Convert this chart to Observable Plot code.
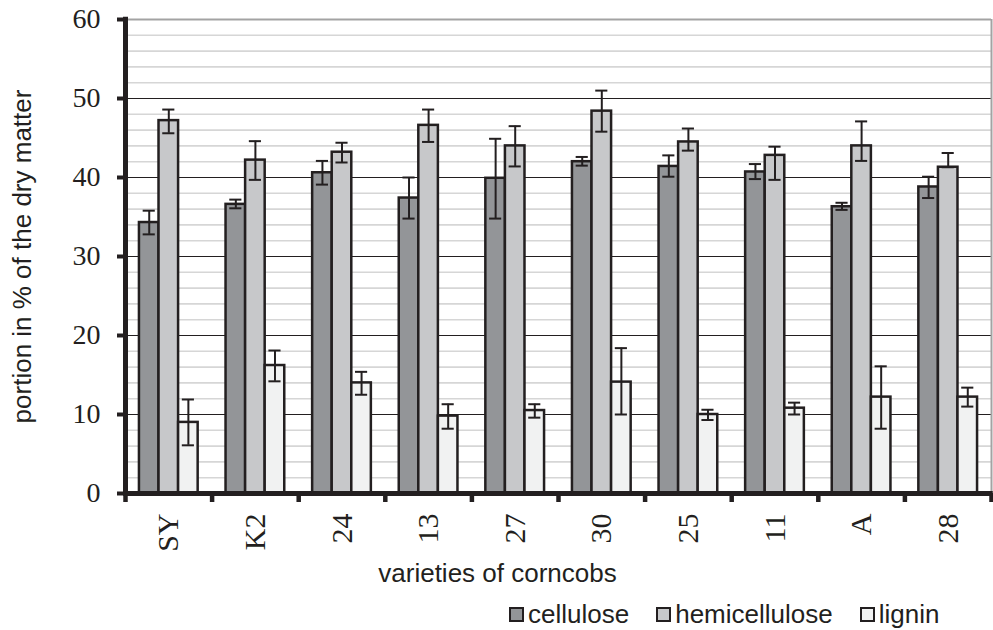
<!DOCTYPE html>
<html>
<head>
<meta charset="utf-8">
<script src="https://cdn.jsdelivr.net/npm/d3@7"></script>
<script src="https://cdn.jsdelivr.net/npm/@observablehq/plot@0.6"></script>
<style>
  html, body { margin: 0; padding: 0; background: #fff; }
  #wrap { position: relative; width: 993px; height: 630px; overflow: hidden; }
  #legend { position: absolute; left: 509px; top: 601px; display: flex; align-items: center;
            font-family: "Liberation Sans", Arial, sans-serif; font-size: 26px; color: #231f20; line-height: 1; }
  .item { display: flex; align-items: center; margin-right: 27px; }
  .sw { width: 11px; height: 11px; border: 2px solid #231f20; margin-right: 4px; }
</style>
</head>
<body>
<div id="wrap"><div id="chart"></div><div id="legend"></div></div>
<script>
const varieties = ["SY", "K2", "24", "13", "27", "30", "25", "11", "A", "28"];
const series = ["cellulose", "hemicellulose", "lignin"];
const colors = ["#939598", "#c7c8ca", "#f1f2f2"];

const cellulose         = [34.3, 36.6, 40.6, 37.4, 39.9, 42.0, 41.4, 40.7, 36.3, 38.8];
const celluloseLow      = [32.8, 36.1, 39.1, 34.8, 34.8, 41.5, 40.1, 39.8, 35.9, 37.4];
const celluloseHigh     = [35.8, 37.2, 42.1, 40.0, 44.9, 42.6, 42.8, 41.7, 36.8, 40.1];
const hemicellulose     = [47.2, 42.2, 43.2, 46.6, 44.0, 48.4, 44.5, 42.8, 44.0, 41.3];
const hemicelluloseLow  = [45.6, 39.7, 41.9, 44.5, 41.4, 45.8, 43.4, 39.7, 42.1, 41.3];
const hemicelluloseHigh = [48.6, 44.6, 44.4, 48.6, 46.5, 51.0, 46.2, 43.9, 47.1, 43.1];
const lignin            = [9.0, 16.2, 14.0, 9.8, 10.5, 14.1, 10.0, 10.8, 12.2, 12.2];
const ligninLow         = [6.1, 14.2, 12.5, 8.2, 9.6, 10.0, 9.3, 10.0, 8.2, 11.0];
const ligninHigh        = [11.9, 18.1, 15.4, 11.3, 11.3, 18.4, 10.6, 11.5, 16.1, 13.4];

const yTicks = [0, 10, 20, 30, 40, 50, 60];
const yMinor = d3.range(2, 60, 2).filter(v => v % 10 !== 0);

const xTitle = "varieties of corncobs";
const yTitle = "portion in % of the dry matter";

// table built from the arrays
const values = [cellulose, hemicellulose, lignin];
const lows = [celluloseLow, hemicelluloseLow, ligninLow];
const highs = [celluloseHigh, hemicelluloseHigh, ligninHigh];
const rows = [];
varieties.forEach((v, i) => series.forEach((s, k) => rows.push({
  variety: v, series: s, i, k, value: values[k][i], low: lows[k][i], high: highs[k][i]
})));

const w = 0.226;          // bar width in band units
const cap = 0.07;         // half cap width in band units
const left = d => d.i + 0.5 + (d.k - 1.5) * w;
const mid = d => left(d) + w / 2;
const boundaries = d3.range(varieties.length + 1);

const ink = "#231f20";

const chart = Plot.plot({
  width: 993,
  height: 590,
  marginLeft: 125,
  marginRight: 2,
  marginTop: 19,
  marginBottom: 97,
  style: { fontFamily: "Liberation Sans, Arial, sans-serif", color: ink, background: "#fff" },
  x: { domain: [0, varieties.length], axis: null },
  y: { domain: [0, 60], axis: null },
  color: { domain: series, range: colors },
  marks: [
    Plot.ruleY(yMinor, { stroke: "#d6d6d6", strokeWidth: 1.6 }),
    Plot.ruleY(yTicks.filter(t => t > 0 && t < 60), { stroke: ink, strokeWidth: 1.2 }),
    Plot.ruleY([60], { stroke: "#a3a3a3", strokeWidth: 2 }),
    Plot.ruleX([varieties.length], { stroke: "#a3a3a3", strokeWidth: 2 }),
    Plot.rectY(rows, { x1: left, x2: d => left(d) + w, y1: 0, y2: "value", fill: "series",
                       stroke: ink, strokeWidth: 2.5 }),
    Plot.ruleX(rows, { x: mid, y1: "low", y2: "high", stroke: ink, strokeWidth: 2 }),
    Plot.ruleY(rows, { y: "low", x1: d => mid(d) - cap, x2: d => mid(d) + cap, stroke: ink, strokeWidth: 2 }),
    Plot.ruleY(rows, { y: "high", x1: d => mid(d) - cap, x2: d => mid(d) + cap, stroke: ink, strokeWidth: 2 }),
    // axes
    Plot.axisY(yTicks, { tickSize: 8, tickPadding: 17, strokeWidth: 4, fontSize: 28,
                         fontFamily: "Liberation Serif, Times New Roman, serif", label: null }),
    Plot.axisX(boundaries, { tickSize: 9, strokeWidth: 4.5, tickFormat: () => "", label: null }),
    Plot.ruleX([0], { stroke: ink, strokeWidth: 5, y1: -0.3, y2: 60.3 }),
    Plot.ruleY([0], { stroke: ink, strokeWidth: 5, x1: -0.02, x2: varieties.length + 0.02 }),
    Plot.text(varieties, { x: (d, i) => i + 0.5, frameAnchor: "bottom", text: d => d, rotate: -90,
                           textAnchor: "end", lineAnchor: "middle", dy: 20, fontSize: 30,
                           fontFamily: "Liberation Serif, Times New Roman, serif", fill: ink }),
    Plot.text([xTitle], { frameAnchor: "bottom", text: d => d, textAnchor: "middle", lineAnchor: "middle",
                          dx: -61, dy: 80, fontSize: 26, fill: ink }),
    Plot.text([yTitle], { frameAnchor: "left", text: d => d, rotate: -90, textAnchor: "middle",
                          lineAnchor: "middle", dx: -103, fontSize: 26, fill: ink })
  ]
});
document.getElementById("chart").appendChild(chart);

const legend = document.getElementById("legend");
series.forEach((s, k) => {
  const item = document.createElement("div");
  item.className = "item";
  const sw = document.createElement("div");
  sw.className = "sw";
  sw.style.background = colors[k];
  const label = document.createElement("span");
  label.textContent = s;
  item.appendChild(sw);
  item.appendChild(label);
  legend.appendChild(item);
});
</script>
</body>
</html>
